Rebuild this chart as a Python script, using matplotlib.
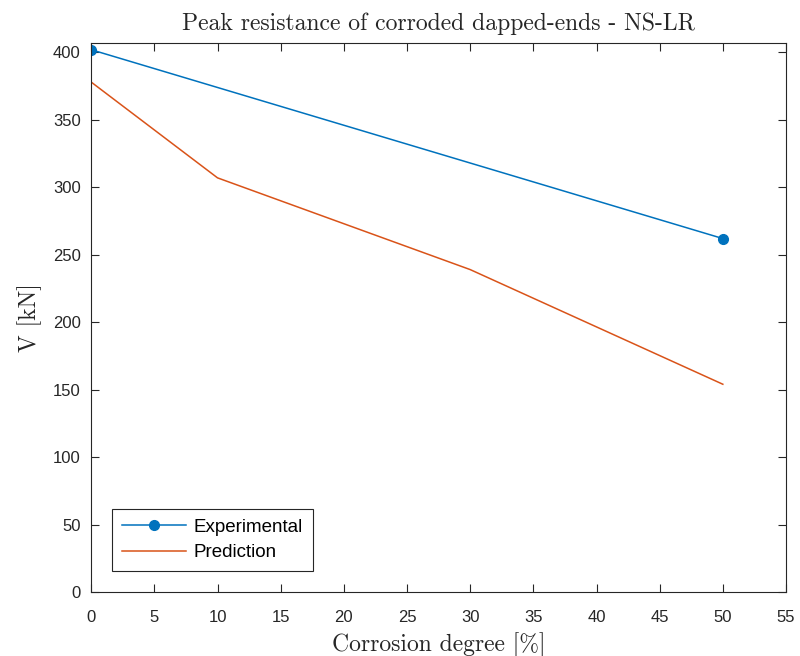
import matplotlib
matplotlib.use("Agg")
from matplotlib import pyplot as plt

# values
exp_x = [0, 50]
exp_v = [402, 262]
pred_x = [0, 10, 30, 50]
pred_v = [378, 307, 239, 154]

x_ticks = list(range(0, 56, 5))
y_ticks = list(range(0, 401, 50))

plt.rcParams['font.family'] = ['Liberation Sans', 'DejaVu Sans']
serif = ['cmr10', 'DejaVu Serif']

fig = plt.figure(figsize=(8, 6.56), dpi=100)
ax = fig.add_axes([0.114, 0.0976, 0.8685, 0.8369])

ax.plot(exp_x, exp_v, color='#0072BD', marker='o', markersize=7, lw=1.1, label='Experimental')
ax.plot(pred_x, pred_v, color='#D95319', lw=1.1, label='Prediction')

ax.set_xlim(0, 55)
ax.set_ylim(0, 407)
ax.set_xticks(x_ticks)
ax.set_yticks(y_ticks)
ax.tick_params(direction='in', length=6, width=0.8, top=True, right=True,
               labelsize=12, labelcolor='#262626', color='#262626')
ax.tick_params(axis='x', pad=13)
ax.tick_params(axis='y', pad=7.5)
for s in ax.spines.values():
    s.set_color('#262626')
    s.set_linewidth(0.8)

ax.set_title('Peak resistance of corroded dapped-ends - NS-LR', fontsize=17,
             family=serif, color='#262626', pad=9)
ax.set_xlabel('Corrosion degree [%]', fontsize=17, family=serif, color='#262626', labelpad=5)
ax.set_ylabel('V [kN]', fontsize=17, family=serif, color='#262626', labelpad=8)

leg = ax.legend(loc='lower left', bbox_to_anchor=(0.017, 0.022), fontsize=13.5,
                fancybox=False, framealpha=1, edgecolor='#262626',
                handlelength=3.4, handletextpad=0.45, borderpad=0.5, labelspacing=0.45)
leg.get_frame().set_linewidth(0.8)

fig.savefig('out.png', dpi=100)
